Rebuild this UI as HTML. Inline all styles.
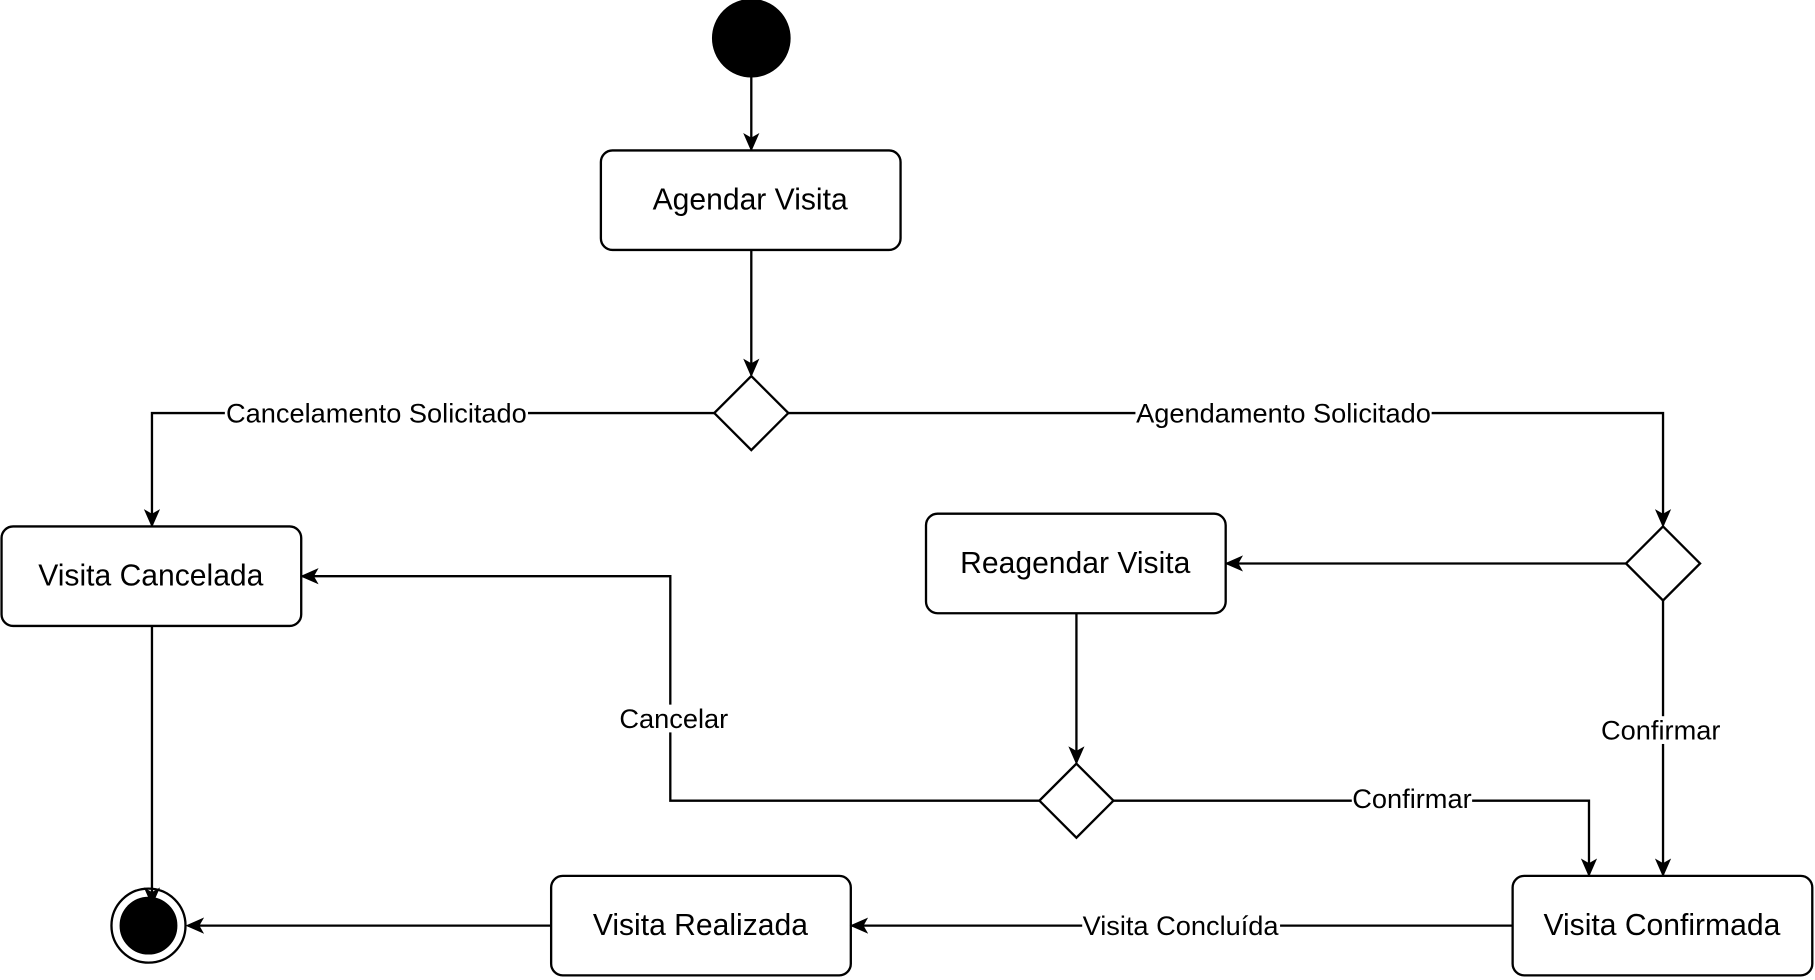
<!DOCTYPE html>
<html><head><meta charset="utf-8"><style>
html,body{margin:0;padding:0;background:#fff;}
svg{display:block;}
text{font-family:"Liberation Sans",sans-serif;fill:#000;}
</style></head><body>
<svg width="1815" height="980" viewBox="0 0 1568 847" xmlns="http://www.w3.org/2000/svg">
<defs>
<marker id="a" markerWidth="16" markerHeight="16" refX="14" refY="8" orient="auto" markerUnits="userSpaceOnUse">
<path d="M0,1 L16,8 L0,15 L4,8 Z" fill="#000"/>
</marker>
</defs>
<g fill="none" stroke="#000" stroke-width="2">
<circle cx="649" cy="33" r="33" fill="#000"/>
<line x1="649" y1="66" x2="649" y2="129" marker-end="url(#a)"/>
<rect x="519" y="130" width="259" height="86" rx="10" fill="#fff"/>
<line x1="649" y1="216" x2="649" y2="324" marker-end="url(#a)"/>
<polygon points="649,325 681,357 649,389 617,357" fill="#fff"/>
<polyline points="617,357 131,357 131,454" marker-end="url(#a)"/>
<polyline points="681,357 1437,357 1437,454" marker-end="url(#a)"/>
<polygon points="1437,455 1469,487 1437,519 1405,487" fill="#fff"/>
<rect x="1" y="455" width="259" height="86" rx="10" fill="#fff"/>
<rect x="800" y="444" width="259" height="86" rx="10" fill="#fff"/>
<line x1="1405" y1="487" x2="1060" y2="487" marker-end="url(#a)"/>
<line x1="930" y1="530" x2="930" y2="659" marker-end="url(#a)"/>
<polygon points="930,660 962,692 930,724 898,692" fill="#fff"/>
<polyline points="898,692 579,692 579,498 261,498" marker-end="url(#a)"/>
<polyline points="962,692 1373,692 1373,756" marker-end="url(#a)"/>
<line x1="1437" y1="519" x2="1437" y2="756" marker-end="url(#a)"/>
<rect x="1307" y="757" width="259" height="86" rx="10" fill="#fff"/>
<rect x="476" y="757" width="259" height="86" rx="10" fill="#fff"/>
<line x1="1307" y1="800" x2="736" y2="800" marker-end="url(#a)"/>
<line x1="476" y1="800" x2="162" y2="800" marker-end="url(#a)"/>
<circle cx="128" cy="800" r="32" fill="#fff"/>
<circle cx="128" cy="800" r="24" fill="#000"/>
<line x1="131" y1="541" x2="131" y2="781" marker-end="url(#a)"/>
</g>
<g font-size="26" text-anchor="middle" dominant-baseline="central">
<text x="648" y="173">Agendar Visita</text>
<text x="130" y="498">Visita Cancelada</text>
<text x="929" y="487">Reagendar Visita</text>
<text x="1436" y="800">Visita Confirmada</text>
<text x="605" y="800">Visita Realizada</text>
</g>
<g font-size="23.5" text-anchor="middle" dominant-baseline="central">
<rect x="194" y="345" width="262" height="24" fill="#fff"/>
<text x="325" y="357">Cancelamento Solicitado</text>
<rect x="981" y="345" width="256" height="24" fill="#fff"/>
<text x="1109" y="357">Agendamento Solicitado</text>
<rect x="534" y="609" width="96" height="24" fill="#fff"/>
<text x="582" y="621">Cancelar</text>
<rect x="1168" y="679" width="104" height="24" fill="#fff"/>
<text x="1220" y="690">Confirmar</text>
<rect x="1383" y="619" width="104" height="24" fill="#fff"/>
<text x="1435" y="631">Confirmar</text>
<rect x="935" y="788" width="171" height="24" fill="#fff"/>
<text x="1020" y="800">Visita Concluída</text>
</g>
</svg>
</body></html>
